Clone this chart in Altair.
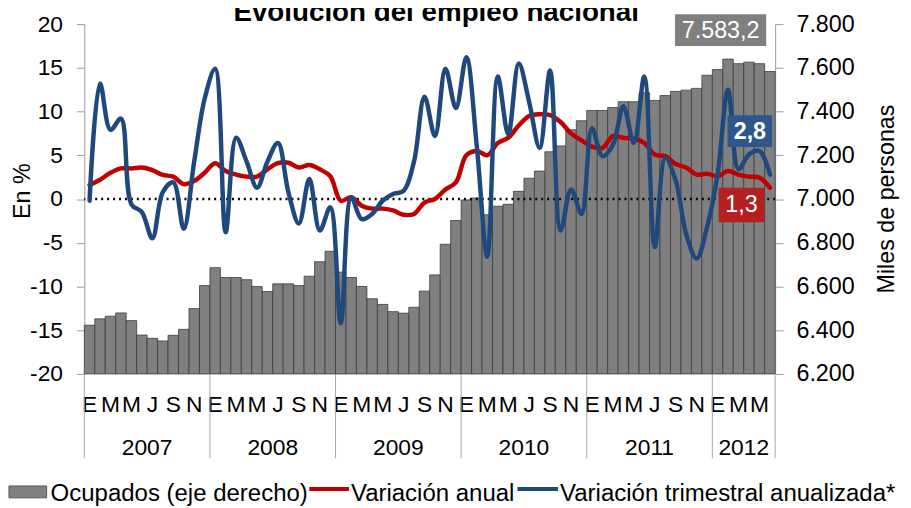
import altair as alt
import pandas as pd

# ---------------- data ----------------
years = [2007, 2008, 2009, 2010, 2011, 2012]
month_letters = ["E", "", "M", "", "M", "", "J", "", "S", "", "N", ""]

ocupados = [
    6423, 6452, 6464, 6479, 6444, 6378, 6363, 6351, 6377, 6404, 6499, 6604,
    6686, 6641, 6641, 6631, 6600, 6577, 6612, 6612, 6604, 6647, 6713, 6761,
    6666, 6641, 6600, 6544, 6518, 6485, 6478, 6505, 6579, 6653, 6793, 6902,
    6996, 7005, 6928, 6967, 6976, 7035, 7095, 7128, 7216, 7243, 7317, 7358,
    7405, 7405, 7418, 7445, 7445, 7486, 7451, 7473, 7492, 7498, 7506, 7566,
    7592, 7640, 7619, 7626, 7619, 7583.2,
]
anual = [
    1.6, 2.2, 3.0, 3.5, 3.5, 3.6, 3.3, 2.75, 2.56, 1.7, 2.07, 3.0,
    4.1, 3.2, 2.8, 2.56, 2.56, 3.4, 4.1, 4.15, 3.6, 3.9, 3.4, 2.6,
    -0.2, 0.2, -0.76, -1.1, -1.1, -1.3, -1.8, -1.7, -0.4, 0.0, 1.1, 1.9,
    5.0, 5.5, 5.0, 6.4, 7.0, 8.4, 9.5, 9.7, 9.6, 8.8, 7.5, 6.7,
    6.0, 5.85, 7.2, 7.0, 6.9, 6.4, 5.1, 4.9, 4.0, 3.6, 2.8, 2.9,
    2.6, 3.2, 2.8, 2.56, 2.45, 1.3,
]
trimestral = [
    -0.2, 13.2, 7.9, 9.2, -0.6, -1.5, -4.5, 0.8, 1.9, -3.4, 4.3, 11.5,
    14.9, -3.8, 7.0, 4.3, 1.3, 4.3, 6.4, 0.75, -2.8, 2.3, -3.6, -0.95,
    -14.2, 0.2, -2.3, -1.7, -0.2, 0.57, 0.94, 4.3, 11.7, 7.2, 14.9, 10.4,
    16.2, 6.0, -6.6, 14.0, 7.4, 15.5, 11.1, 5.85, 14.7, -3.6, 1.1, -1.7,
    8.1, 4.9, 6.2, 10.6, 6.4, 14.0, -5.5, 4.7, 2.1, -4.0, -6.8, -3.2,
    2.8, 12.5, 3.4, 5.1, 5.5, 2.8,
]

legend_labels = ["Ocupados (eje derecho)", "Variación anual", "Variación trimestral anualizada*"]
title_text = "Evolución del empleo nacional"

# ---------------- tables ----------------
n = len(ocupados)
df = pd.DataFrame({"idx": list(range(n)), "ocupados": ocupados,
                   "anual": anual, "trimestral": trimestral})
df["x0"] = df["idx"]
df["x1"] = df["idx"] + 1
df["xc"] = df["idx"] + 0.5
df["year"] = [years[i // 12] for i in range(n)]
df["letter"] = [month_letters[i % 12] for i in range(n)]

letters_df = df[df["letter"] != ""][["xc", "letter"]]
year_df = df.groupby("year", as_index=False)["xc"].mean()
year_df["label"] = year_df["year"].astype(str)
sep_df = pd.DataFrame({"xs": [i for i in range(0, n, 12)] + [n]})


def es_num(v, dec=1, thousands=False):
    s = f"{v:,.{dec}f}" if thousands else f"{v:.{dec}f}"
    return s.replace(",", "X").replace(".", ",").replace("X", ".")


FONT = "Liberation Sans"
GRAY_AX = "#9a9a9a"

W, H = 697, 353
xs = alt.Scale(domain=[0, n], nice=False, zero=False)
ys_left = alt.Scale(domain=[-20, 20], nice=False, zero=False)
ys_right = alt.Scale(domain=[6200, 7800], nice=False, zero=False)

bars = alt.Chart(df).mark_bar(fill="#808080", stroke="#3c3c3c", strokeWidth=0.8).encode(
    x=alt.X("x0:Q", scale=xs,
            axis=alt.Axis(values=list(range(n + 1)), labels=False, tickSize=40,
                          tickColor="#a6a6a6", domainColor="#a6a6a6", grid=False,
                          title=None, tickWidth=1)),
    x2="x1:Q",
    y=alt.Y("ocupados:Q", scale=ys_right,
            axis=alt.Axis(orient="right", values=list(range(6200, 7801, 200)),
                          tickSize=8, labelPadding=13, grid=False,
                          labelExpr="replace(format(datum.value, ','), ',', '.')",
                          labelFontSize=23.5, labelFont=FONT, labelColor="black",
                          tickColor=GRAY_AX, domainColor=GRAY_AX,
                          title="Miles de personas", titleAngle=270, titleX=112, titleY=176,
                          titleBaseline="middle", titleAlign="center",
                          titleFontSize=23.5, titleFont=FONT, titleFontWeight="normal",
                          titleColor="black")),
    y2=alt.datum(6200),
)

zero = alt.Chart(pd.DataFrame({"z": [0]})).mark_rule(
    color="black", strokeDash=[2, 4], strokeWidth=2.5).encode(
    y=alt.Y("z:Q", scale=ys_left, axis=None))

red = alt.Chart(df).mark_line(color="#C00000", strokeWidth=4.5,
                              interpolate="catmull-rom", strokeCap="round").encode(
    x=alt.X("xc:Q", scale=xs, axis=None),
    y=alt.Y("anual:Q", scale=ys_left,
            axis=alt.Axis(orient="left", values=list(range(-20, 21, 5)),
                          tickSize=8, labelPadding=14, grid=False,
                          labelExpr="datum.value + ''",
                          labelFontSize=23, labelFont=FONT, labelColor="black",
                          tickColor=GRAY_AX, domainColor=GRAY_AX,
                          title="En %", titleAngle=270, titleX=-62, titleY=168,
                          titleBaseline="middle", titleAlign="center",
                          titleFontSize=23.5, titleFont=FONT, titleFontWeight="normal",
                          titleColor="black")),
)

blue = alt.Chart(df).mark_line(color="#1F497D", strokeWidth=4.5,
                               interpolate="catmull-rom", strokeCap="round").encode(
    x=alt.X("xc:Q", scale=xs, axis=None),
    y=alt.Y("trimestral:Q", scale=ys_left, axis=None),
)

# x axis: month letters, years, separators
letters = alt.Chart(letters_df).mark_text(
    font=FONT, fontSize=23, baseline="alphabetic", align="center", color="black").encode(
    x=alt.X("xc:Q", scale=xs, axis=None), y=alt.value(391), text="letter:N")

year_txt = alt.Chart(year_df).mark_text(
    font=FONT, fontSize=23, baseline="alphabetic", align="center", color="black").encode(
    x=alt.X("xc:Q", scale=xs, axis=None), y=alt.value(435), text="label:N")

seps = alt.Chart(sep_df).mark_rule(color="#a6a6a6", strokeWidth=1).encode(
    x=alt.X("xs:Q", scale=xs, axis=None), y=alt.value(H), y2=alt.value(438))

# annotations of the last values
ann_df = pd.DataFrame({
    "t1": [es_num(ocupados[-1], 1, True)],
    "t2": [es_num(trimestral[-1])],
    "t3": [es_num(anual[-1])],
})
box1 = alt.Chart(ann_df).mark_rect(fill="#7f7f7f").encode(
    x=alt.value(596), x2=alt.value(688), y=alt.value(-10), y2=alt.value(22))
txt1 = alt.Chart(ann_df).mark_text(font=FONT, fontSize=23.5, color="white",
                                   baseline="middle", align="center").encode(
    x=alt.value(642), y=alt.value(7), text="t1:N")
box2 = alt.Chart(ann_df).mark_rect(fill="#2F5689").encode(
    x=alt.value(649), x2=alt.value(694), y=alt.value(92), y2=alt.value(124))
txt2 = alt.Chart(ann_df).mark_text(font=FONT, fontSize=23.5, fontWeight="bold", color="white",
                                   baseline="middle", align="center").encode(
    x=alt.value(671.5), y=alt.value(109), text="t2:N")
box3 = alt.Chart(ann_df).mark_rect(fill="#B51F1F").encode(
    x=alt.value(640), x2=alt.value(686), y=alt.value(165), y2=alt.value(200))
txt3 = alt.Chart(ann_df).mark_text(font=FONT, fontSize=23.5, color="white",
                                   baseline="middle", align="center").encode(
    x=alt.value(663), y=alt.value(183), text="t3:N")

# legend (manual)
leg_df = pd.DataFrame({"a": [legend_labels[0]], "b": [legend_labels[1]], "c": [legend_labels[2]]})
leg_rect = alt.Chart(leg_df).mark_rect(fill="#808080", stroke="#555555", strokeWidth=1).encode(
    x=alt.value(-76), x2=alt.value(-38), y=alt.value(466), y2=alt.value(478))
leg_red = alt.Chart(leg_df).mark_rule(color="#C00000", strokeWidth=4).encode(
    x=alt.value(227), x2=alt.value(267), y=alt.value(469))
leg_blue = alt.Chart(leg_df).mark_rule(color="#1F497D", strokeWidth=4).encode(
    x=alt.value(437), x2=alt.value(478), y=alt.value(469))
leg_style = dict(font=FONT, fontSize=24.2, color="black", baseline="alphabetic", align="left")
leg_t1 = alt.Chart(leg_df).mark_text(**leg_style).encode(
    x=alt.value(-34), y=alt.value(481), text="a:N")
leg_t2 = alt.Chart(leg_df).mark_text(**leg_style).encode(
    x=alt.value(269), y=alt.value(481), text="b:N")
leg_t3 = alt.Chart(leg_df).mark_text(**leg_style).encode(
    x=alt.value(480), y=alt.value(481), text="c:N")

title = alt.Chart(pd.DataFrame({"t": [title_text]})).mark_text(
    font=FONT, fontSize=28, fontWeight="bold", color="black",
    baseline="alphabetic", align="center").encode(
    x=alt.value(355), y=alt.value(-3), text="t:N")

chart = alt.layer(
    bars, zero, red, blue, letters, year_txt, seps,
    box1, txt1, box2, txt2, box3, txt3,
    leg_rect, leg_red, leg_blue, leg_t1, leg_t2, leg_t3, title,
).resolve_scale(y="independent").properties(
    width=W, height=H,
    autosize=alt.AutoSizeParams(type="none"),
    padding={"left": 77, "top": 14, "right": 129, "bottom": 133},
    background="white",
).configure_view(stroke=None)

chart.save("out.html", embed_options={"renderer": "svg", "actions": False})
